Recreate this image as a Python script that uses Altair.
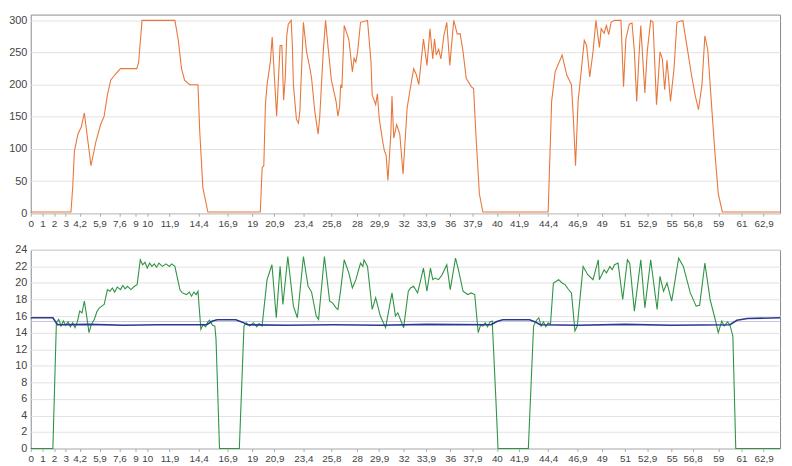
import altair as alt
import pandas as pd

# ---- x-axis tick labels (minutes) ----
x_ticks = [0, 1, 2, 3, 4.2, 5.9, 7.6, 9, 10, 11.9, 14.4, 16.9, 19, 20.9, 23.4, 25.8, 28, 29.9,
           32, 33.9, 36, 37.9, 40, 41.9, 44.4, 46.9, 49, 51, 52.9, 55, 56.8, 59, 61, 62.9]

# ---- top series (orange) ----
top_t = [0, 3.45, 3.6, 3.75, 4.05, 4.35, 4.6, 5.17, 5.6, 6.0, 6.3, 6.58, 6.86, 7.2, 7.7, 9.1, 9.26, 9.55,
         12.37, 12.65, 12.94, 13.2, 13.64, 14.35, 14.5, 14.77, 15.2, 19.7, 19.86, 20.0, 20.14, 20.28, 20.56,
         20.72, 21.1, 21.4, 21.55, 21.7, 21.84, 21.97, 22.1, 22.35, 22.45, 22.54, 22.8, 22.97, 23.1, 23.4,
         23.67, 23.96, 24.1, 24.38, 24.66, 24.8, 25.1, 25.3, 25.5, 25.8, 26.2, 26.36, 26.5, 26.6, 26.7, 26.9,
         27.3, 27.6, 27.75, 27.9, 28.05, 28.3, 28.9, 29.2, 29.3, 29.6, 29.75, 29.9, 30.2, 30.35, 30.5, 30.65,
         30.9, 31.0, 31.15, 31.4, 31.67, 31.95, 32.3, 32.57, 32.86, 33.1, 33.3, 33.7, 34.0, 34.26, 34.5,
         34.65, 34.8, 35.0, 35.2, 35.45, 35.7, 35.96, 36.3, 36.6, 36.85, 37.1, 37.37, 37.8, 38.0, 38.2, 38.5,
         38.8, 44.4, 44.7, 45.0, 45.6, 46.0, 46.4, 46.55, 46.75, 46.97, 47.26, 47.5, 47.7, 47.97, 48.25, 48.5,
         48.8, 48.95, 49.2, 49.4, 49.6, 49.8, 50.1, 50.65, 50.87, 51.07, 51.36, 51.6, 51.8, 52.0, 52.2, 52.35,
         52.5, 52.7, 52.9, 53.2, 53.4, 53.7, 54.0, 54.2, 54.4, 54.6, 54.9, 55.2, 55.45, 55.96, 56.3, 56.7,
         57.0, 57.3, 57.6, 57.85, 58.1, 58.4, 58.7, 59.0, 59.35, 64.3]
top_v = [2, 2, 40, 97, 123, 135, 156, 74, 112, 138, 151, 184, 207, 215, 225, 225, 235, 300,
         300, 271, 225, 207, 200, 200, 128, 40, 2, 2, 71, 74, 169, 200, 235,
         274, 151, 261, 261, 176, 210, 276, 294, 300, 261, 200, 146, 140, 160, 297,
         251, 225, 210, 158, 123, 150, 251, 300, 261, 207, 174, 151, 165, 200, 195, 292,
         270, 220, 241, 235, 251, 297, 300, 235, 184, 169, 186, 148, 112, 97, 90, 51,
         123, 182, 117, 138, 123, 61, 164, 194, 225, 215, 200, 271, 230, 287, 240,
         271, 246, 255, 240, 276, 297, 230, 300, 279, 279, 251, 210, 197, 194, 123, 30,
         2, 2, 174, 220, 246, 215, 200, 153, 74, 174, 225, 269, 261, 212, 251, 300,
         258, 287, 280, 292, 278, 297, 300, 300, 197, 271, 294, 296, 251, 174, 246, 292,
         246, 187, 251, 300, 297, 169, 251, 240, 192, 238, 174, 225, 297, 300, 261, 215,
         185, 161, 200, 276, 254, 174, 97, 30, 2, 2]

# ---- bottom series (green) ----
bot_t = [0, 1.9, 2.2, 2.4, 2.6, 2.8, 3.0, 3.2, 3.4, 3.6, 3.8, 4.0, 4.2, 4.4, 4.6, 4.8, 5.0, 5.2, 5.45, 5.7,
         5.9, 6.1, 6.3, 6.58, 6.8, 7.0, 7.2, 7.43, 7.7, 7.9, 8.1, 8.3, 8.6, 8.9, 9.13, 9.4, 9.6, 9.8, 10.0,
         10.2, 10.4, 10.6, 10.8, 11.0, 11.3, 11.6, 11.9, 12.1, 12.37, 12.8, 13.0, 13.36, 13.6, 13.8, 14.0,
         14.2, 14.35, 14.6, 14.8, 15.0, 15.2, 15.35, 15.6, 15.8, 15.9, 16.2, 17.9, 18.3, 18.5, 18.8, 19.1,
         19.4, 19.6, 19.85, 20.28, 20.7, 21.07, 21.4, 21.64, 22.06, 22.54, 22.88, 23.4, 23.8, 24.1, 24.5,
         24.7, 25.2, 25.65, 25.9, 26.2, 26.36, 26.6, 26.9, 27.3, 27.6, 27.9, 28.3, 28.5, 28.6, 28.9, 29.3,
         29.6, 30.0, 30.45, 31.0, 31.3, 31.5, 32.0, 32.4, 32.6, 32.85, 33.2, 33.7, 34.0, 34.3, 34.5, 34.7,
         35.0, 35.3, 35.7, 36.0, 36.45, 36.7, 37.1, 37.5, 37.8, 38.1, 38.4, 38.6, 38.8, 39.0, 39.2, 39.4,
         39.6, 39.9, 40.1, 42.7, 43.15, 43.4, 43.6, 43.8, 44.0, 44.2, 44.4, 44.6, 44.85, 45.1, 45.3, 45.6,
         45.85, 46.1, 46.4, 46.7, 46.9, 47.4, 47.8, 48.25, 48.7, 48.8, 49.2, 49.4, 49.7, 49.9, 50.1, 50.4,
         50.8, 51.2, 51.4, 51.8, 52.35, 52.7, 53.2, 53.75, 54.0, 54.3, 54.6, 55.0, 55.6, 56.0, 56.6, 57.1,
         57.4, 57.85, 58.3, 58.7, 59.0, 59.3, 59.5, 59.8, 60.0, 60.25, 60.5, 64.3]
bot_v = [0, 0, 15.2, 15.6, 14.8, 15.4, 14.9, 15.3, 14.7, 15.2, 14.6, 15.3, 16.6, 16.4, 17.8, 16.0, 14.0, 15.0,
         15.6, 16.6, 17.0, 17.2, 17.4, 19.2, 19.0, 19.4, 18.9, 19.5, 19.2, 19.7, 19.3, 19.6, 19.2, 19.6, 19.8,
         22.8, 22.2, 22.5, 21.8, 22.4, 22.0, 22.3, 21.9, 22.4, 22.0, 22.3, 22.0, 22.3, 22.0, 19.2, 18.8, 18.6,
         18.9, 18.4, 18.9, 18.6, 19.0, 14.4, 15.0, 14.7, 15.3, 15.5, 14.9, 14.8, 13.2, 0, 0, 14.8, 15.2, 14.8,
         15.2, 14.7, 15.1, 14.8, 20.4, 22.2, 15.8, 22.0, 17.4, 23.2, 17.2, 15.8, 23.2, 19.6, 18.9, 16.0, 15.6,
         23.2, 17.8, 17.6, 17.0, 16.8, 19.2, 22.8, 21.2, 19.4, 20.4, 22.4, 22.0, 22.8, 22.0, 16.8, 18.2, 16.0,
         14.6, 18.8, 16.0, 16.4, 14.6, 19.0, 19.4, 19.6, 18.8, 21.8, 19.0, 21.8, 20.4, 20.6, 20.4, 21.0, 22.2,
         19.2, 23.0, 21.6, 19.0, 18.6, 18.8, 18.6, 14.0, 14.9, 14.8, 15.2, 14.7, 15.3, 15.4, 6.4, 0, 0, 14.8,
         15.5, 15.8, 14.8, 15.3, 14.7, 15.2, 15.0, 20.0, 20.2, 20.4, 20.0, 19.8, 19.3, 18.8, 14.2, 14.8, 22.0,
         21.0, 20.4, 22.8, 20.4, 21.6, 21.2, 22.0, 21.6, 22.2, 22.4, 18.0, 22.8, 22.4, 16.6, 22.8, 17.0, 22.8,
         16.8, 20.8, 19.0, 20.0, 17.8, 23.0, 22.0, 18.8, 17.2, 17.3, 22.4, 18.0, 15.8, 14.0, 15.4, 14.8, 15.3,
         14.9, 13.6, 0, 0]

# ---- bottom series (blue) ----
blue_t = [0, 1.9, 2.3, 5.0, 8.0, 11.0, 15.1, 15.6, 16.0, 17.6, 18.1, 18.6, 22.0, 26.0, 30.0, 34.0, 39.5,
          40.0, 40.5, 42.8, 43.3, 43.7, 47.0, 51.0, 55.0, 60.0, 60.6, 61.5, 64.3]
blue_v = [15.8, 15.8, 14.95, 15.0, 14.9, 14.95, 14.95, 15.4, 15.55, 15.55, 15.3, 14.95, 14.9, 14.95, 14.9,
          15.0, 14.95, 15.35, 15.55, 15.55, 15.3, 14.95, 14.9, 15.0, 14.9, 14.95, 15.5, 15.7, 15.8]

# ---- reference level (light line) ----
ref_level = [15.35]

top_df = pd.DataFrame({"t": top_t, "v": top_v})
bot_df = pd.DataFrame({"t": bot_t, "v": bot_v})
blue_df = pd.DataFrame({"t": blue_t, "v": blue_v})
ref_df = pd.DataFrame({"v": ref_level})

X_DOMAIN = [0, 64.3]
label_expr = "replace(format(datum.value, '.1~f'), '.', ',')"

x_top = alt.X("t:Q", scale=alt.Scale(domain=X_DOMAIN, nice=False, zero=False),
              axis=alt.Axis(values=x_ticks, labelExpr=label_expr, grid=False, title=None,
                            labelOverlap=False, tickSize=3, labelPadding=2, domain=False,
                            tickColor="#aaaaaa", labelFontSize=10, labelColor="#444444",
                            labelFont="Liberation Sans", labelFlush=False))

W = 758

top_line = alt.Chart(top_df).mark_line(color="#e8773c", strokeWidth=1.1).encode(
    x=x_top,
    y=alt.Y("v:Q", scale=alt.Scale(domain=[0, 309], nice=False),
            axis=alt.Axis(values=[0, 50, 100, 150, 200, 250, 300], title=None, tickSize=0,
                          labelPadding=4, domain=False, gridColor="#e2e2e2",
                          labelFontSize=11, labelColor="#444444", labelFont="Liberation Sans")),
)
top = top_line.properties(width=W, height=201)

y_bot = alt.Y("v:Q", scale=alt.Scale(domain=[0, 24], nice=False),
              axis=alt.Axis(values=list(range(0, 25, 2)), title=None, tickSize=0, labelPadding=4,
                            domain=False, gridColor="#e2e2e2", labelFontSize=11,
                            labelColor="#444444", labelFont="Liberation Sans"))

ref_rule = alt.Chart(ref_df).mark_rule(color="#c4c4e2", strokeWidth=1).encode(y=y_bot)
green = alt.Chart(bot_df).mark_line(color="#2f9443", strokeWidth=1.1).encode(x=x_top, y=y_bot)
blue = alt.Chart(blue_df).mark_line(color="#2b3a8f", strokeWidth=1.6).encode(x=x_top, y=y_bot)

bottom = alt.layer(ref_rule, green, blue).properties(width=W, height=201)

chart = alt.vconcat(top, bottom, spacing=14).properties(
    padding={"left": 0, "top": 3, "right": 0, "bottom": 0},
    background="white",
).configure_view(stroke="#8a8a8a", strokeWidth=1).configure_axis(labelFont="Liberation Sans")

chart.save("out.html", embed_options={"renderer": "svg", "actions": False})
